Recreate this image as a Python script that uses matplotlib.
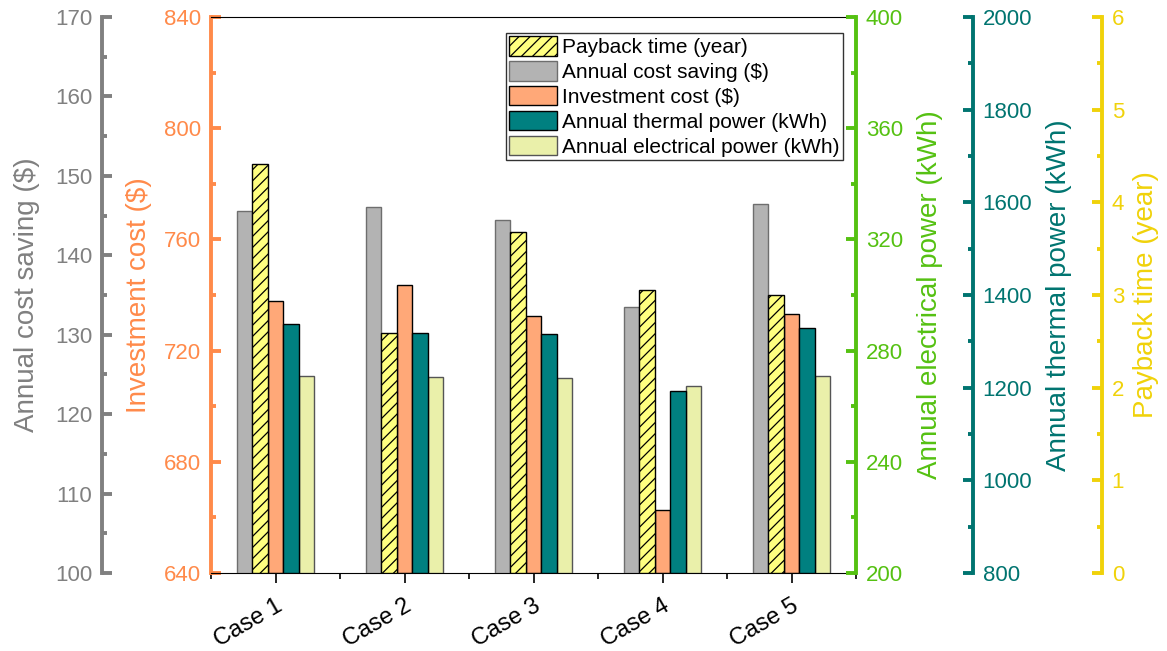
import numpy as np
import matplotlib.pyplot as plt
from matplotlib.ticker import MultipleLocator

plt.rcParams['font.family'] = ['Liberation Sans', 'DejaVu Sans']
plt.rcParams['hatch.linewidth'] = 0.9

# Data
cases = ['Case 1', 'Case 2', 'Case 3', 'Case 4', 'Case 5']
cost_saving = [145.6, 146.1, 144.5, 133.5, 146.5]        # $
payback = [4.41, 2.59, 3.68, 3.05, 3.00]                  # year
investment = [737.8, 743.7, 732.5, 662.7, 733.1]          # $
thermal = [1338, 1318, 1316, 1193, 1328]                  # kWh
electrical = [271.0, 270.5, 270.3, 267.4, 271.0]          # kWh

c_gray = '#808080'
c_orange = '#FF8A4A'
c_green = '#55C112'
c_teal = '#007470'
c_yellow = '#F0D20A'

px = 72 / 100  # pixels -> points at dpi 100

fig = plt.figure(figsize=(11.67, 6.51), dpi=100)
ax = fig.add_axes([211/1167, 1-573/651, 645/1167, 556/651])  # investment (orange)
ax_g = ax.twinx()   # cost saving (gray)
ax_e = ax.twinx()   # electrical (green)
ax_t = ax.twinx()   # thermal (teal)
ax_p = ax.twinx()   # payback (yellow)

x = np.arange(len(cases))
w = 0.12

b_g = ax_g.bar(x - 2*w, np.array(cost_saving) - 100, w, bottom=100,
               color='#B3B3B3', edgecolor='#6E6E6E', lw=1, label='Annual cost saving ($)')
b_p = ax_p.bar(x - w, payback, w, color='#FFFF80', edgecolor='black', lw=1,
               hatch='///', label='Payback time (year)')
b_o = ax.bar(x, np.array(investment) - 640, w, bottom=640,
             color='#FFA878', edgecolor='black', lw=1, label='Investment cost ($)')
b_t = ax_t.bar(x + w, np.array(thermal) - 800, w, bottom=800,
               color='#008080', edgecolor='black', lw=1, label='Annual thermal power (kWh)')
b_e = ax_e.bar(x + 2*w, np.array(electrical) - 200, w, bottom=200,
               color='#EAF0AA', edgecolor='#555555', lw=1, label='Annual electrical power (kWh)')

ax.set_xlim(-0.5, 4.5)
ax.set_xticks(x)
ax.set_xticklabels(cases, rotation=30, ha='right', rotation_mode='anchor', fontsize=17)
ax.set_xticks(np.arange(-0.5, 5, 1), minor=True)
ax.tick_params(axis='x', which='major', direction='out', length=7, width=1.2, pad=9)
ax.tick_params(axis='x', which='minor', direction='out', length=4, width=1.2)

def style_axis(a, side, offset, color, lim, major, minor, label, labelpad):
    a.set_ylim(*lim)
    a.yaxis.set_major_locator(MultipleLocator(major))
    a.yaxis.set_minor_locator(MultipleLocator(minor))
    if a is not ax:
        for s in ['top', 'bottom', 'left', 'right']:
            a.spines[s].set_visible(False)
    a.spines[side].set_visible(True)
    a.spines[side].set_position(('outward', offset * px))
    a.spines[side].set_color(color)
    a.spines[side].set_linewidth(2.8)
    a.yaxis.set_ticks_position(side)
    a.yaxis.set_label_position(side)
    a.tick_params(axis='y', which='major', direction='in', length=7, width=2.8,
                  color=color, labelcolor=color, labelsize=16, pad=7)
    a.tick_params(axis='y', which='minor', direction='in', length=3.5, width=2.8, color=color)
    a.set_ylabel(label, color=color, fontsize=20, labelpad=labelpad)

ax.spines['right'].set_visible(False)
ax.spines['top'].set_color('black')
ax.spines['bottom'].set_color('black')
style_axis(ax, 'left', 0, c_orange, (640, 840), 40, 20, 'Investment cost ($)', 8.5)
style_axis(ax_g, 'left', 109, c_gray, (100, 170), 10, 5, 'Annual cost saving ($)', 11)
style_axis(ax_e, 'right', 0, c_green, (200, 400), 40, 20, 'Annual electrical power (kWh)', 10)
style_axis(ax_t, 'right', 117, c_teal, (800, 2000), 200, 100, 'Annual thermal power (kWh)', 10)
style_axis(ax_p, 'right', 246, c_yellow, (0, 6), 1, 0.5, 'Payback time (year)', 6)

leg = ax_p.legend(handles=[b_p, b_g, b_o, b_t, b_e], loc='upper right',
                  bbox_to_anchor=(0.98, 0.971), fontsize=15, frameon=True, fancybox=False,
                  edgecolor='black', handlelength=2.3, handleheight=1.05,
                  labelspacing=0.2, handletextpad=0.25, borderpad=0.15, borderaxespad=0)
leg.get_frame().set_linewidth(1)

fig.savefig('out.png', dpi=100)
